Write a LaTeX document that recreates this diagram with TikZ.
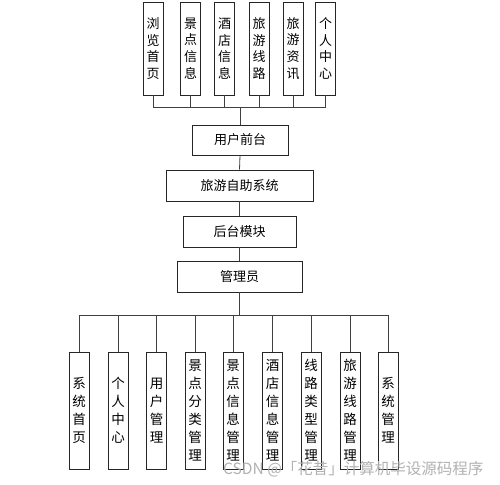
\documentclass[tikz,border=0pt]{standalone}
\usepackage{fontspec}
\newfontfamily\cjk{Noto Sans CJK SC}
\begin{document}
\begin{tikzpicture}[x=1pt,y=1pt,
  box/.style={draw=black!85, line width=0.8pt, inner sep=0pt, font=\cjk\fontsize{13}{16}\selectfont},
  vtop/.style={box, minimum width=20pt, minimum height=93pt, align=center, font=\cjk\fontsize{13}{16.7}\selectfont},
  vbot/.style={box, minimum width=20pt, minimum height=117pt, align=center, font=\cjk\fontsize{13.5}{18}\selectfont},
  conn/.style={draw=black!75, line width=0.8pt},
  wm/.style={text=black!30, font=\cjk\fontsize{15.5}{16}\selectfont, inner sep=0pt}]
\useasboundingbox (0,0) rectangle (500,-484);
\fill[white] (0,0) rectangle (500,-484);
% top row
\node[vtop] (t1) at (153,-48.5) {浏\\览\\首\\页};
\node[vtop] (t2) at (190.5,-48.5) {景\\点\\信\\息};
\node[vtop] (t3) at (224.5,-48.5) {酒\\店\\信\\息};
\node[vtop] (t4) at (259,-48.5) {旅\\游\\线\\路};
\node[vtop] (t5) at (293,-48.5) {旅\\游\\资\\讯};
\node[vtop] (t6) at (325.5,-48.5) {个\\人\\中\\心};
% middle column
\node[box, minimum width=96pt, minimum height=30pt] (u) at (240,-140) {用户前台};
\node[box, minimum width=147pt, minimum height=31pt] (s) at (239.5,-185.5) {旅游自助系统};
\node[box, minimum width=113pt, minimum height=31pt] (h) at (239.5,-231.5) {后台模块};
\node[box, minimum width=125pt, minimum height=31pt] (m) at (239.5,-276.5) {管理员};
% bottom row
\node[vbot] (b1) at (79,-410.5) {系\\统\\首\\页};
\node[vbot] (b2) at (118,-410.5) {个\\人\\中\\心};
\node[vbot] (b3) at (156.5,-410.5) {用\\户\\管\\理};
\node[vbot] (b4) at (195,-410.5) {景\\点\\分\\类\\管\\理};
\node[vbot] (b5) at (233,-410.5) {景\\点\\信\\息\\管\\理};
\node[vbot] (b6) at (272.5,-410.5) {酒\\店\\信\\息\\管\\理};
\node[vbot] (b7) at (311,-410.5) {线\\路\\类\\型\\管\\理};
\node[vbot] (b8) at (350,-410.5) {旅\\游\\线\\路\\管\\理};
\node[vbot] (b9) at (388,-410.5) {系\\统\\管\\理};
% connectors
\coordinate (bt) at (240,-107);
\foreach \i in {1,...,6} { \draw[conn] (t\i.south) |- (bt); }
\draw[conn] (bt) -- (u.north);
\draw[conn] (u.south) -- (s.north);
\draw[conn] (s.south) -- (h.north);
\draw[conn] (h.south) -- (m.north);
\coordinate (bb) at (239.5,-315);
\draw[conn] (m.south) -- (bb);
\foreach \i in {1,...,9} { \draw[conn] (b\i.north) |- (bb); }
% watermark
\node[wm, anchor=west] (w) at (223,-469) {CSDN @「花昔」计算机毕设源码程序};
\end{tikzpicture}
\end{document}
